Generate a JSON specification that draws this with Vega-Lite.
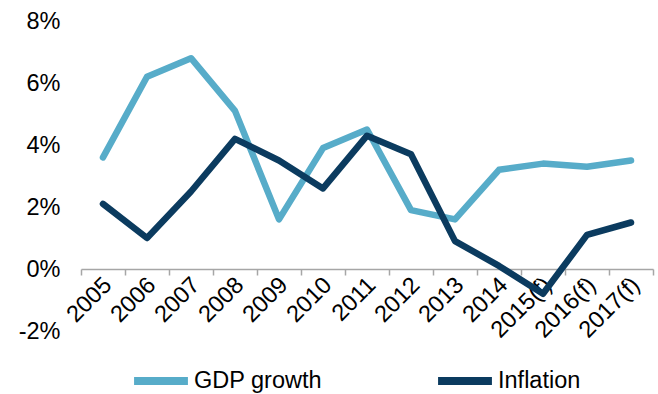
{
  "$schema": "https://vega.github.io/schema/vega-lite/v6.json",
  "width": 572,
  "height": 310,
  "autosize": {"type": "none"},
  "padding": {"left": 81, "top": 21, "right": 5, "bottom": 63},
  "background": "white",
  "config": {
    "view": {"stroke": null},
    "font": "Liberation Sans",
    "axis": {"labelFont": "Liberation Sans", "labelColor": "#000000", "labelFontSize": 23.5, "grid": false}
  },
  "data": {
    "values": [
      {"year": "2005", "series": "GDP growth", "value": 3.6},
      {"year": "2006", "series": "GDP growth", "value": 6.2},
      {"year": "2007", "series": "GDP growth", "value": 6.8},
      {"year": "2008", "series": "GDP growth", "value": 5.1},
      {"year": "2009", "series": "GDP growth", "value": 1.6},
      {"year": "2010", "series": "GDP growth", "value": 3.9},
      {"year": "2011", "series": "GDP growth", "value": 4.5},
      {"year": "2012", "series": "GDP growth", "value": 1.9},
      {"year": "2013", "series": "GDP growth", "value": 1.6},
      {"year": "2014", "series": "GDP growth", "value": 3.2},
      {"year": "2015(f)", "series": "GDP growth", "value": 3.4},
      {"year": "2016(f)", "series": "GDP growth", "value": 3.3},
      {"year": "2017(f)", "series": "GDP growth", "value": 3.5},
      {"year": "2005", "series": "Inflation", "value": 2.1},
      {"year": "2006", "series": "Inflation", "value": 1.0},
      {"year": "2007", "series": "Inflation", "value": 2.5},
      {"year": "2008", "series": "Inflation", "value": 4.2},
      {"year": "2009", "series": "Inflation", "value": 3.5},
      {"year": "2010", "series": "Inflation", "value": 2.6},
      {"year": "2011", "series": "Inflation", "value": 4.3},
      {"year": "2012", "series": "Inflation", "value": 3.7},
      {"year": "2013", "series": "Inflation", "value": 0.9},
      {"year": "2014", "series": "Inflation", "value": 0.1},
      {"year": "2015(f)", "series": "Inflation", "value": -0.8},
      {"year": "2016(f)", "series": "Inflation", "value": 1.1},
      {"year": "2017(f)", "series": "Inflation", "value": 1.5}
    ]
  },
  "mark": {"type": "line", "strokeWidth": 6.5, "strokeCap": "round", "strokeJoin": "round"},
  "encoding": {
    "x": {
      "field": "year",
      "type": "ordinal",
      "sort": null,
      "scale": {"type": "band", "paddingInner": 0, "paddingOuter": 0},
      "axis": {
        "title": null,
        "offset": -62,
        "domainColor": "#A6A6A6",
        "domainWidth": 1.5,
        "tickColor": "#A6A6A6",
        "tickWidth": 1.5,
        "tickSize": 6,
        "bandPosition": 1,
        "tickExtra": true,
        "labelAngle": -45,
        "labelAlign": "right",
        "labelBaseline": "middle",
        "labelPadding": 6,
        "labelOffset": 5
      }
    },
    "y": {
      "field": "value",
      "type": "quantitative",
      "scale": {"domain": [-2, 8], "nice": false, "zero": false},
      "axis": {
        "title": null,
        "values": [-2, 0, 2, 4, 6, 8],
        "labelExpr": "datum.value + '%'",
        "domain": false,
        "ticks": false,
        "labelPadding": 21
      }
    },
    "color": {
      "field": "series",
      "type": "nominal",
      "scale": {"domain": ["GDP growth", "Inflation"], "range": ["#57ACC9", "#0B3B5F"]},
      "legend": {
        "title": null,
        "orient": "none",
        "legendX": 49,
        "legendY": 329,
        "direction": "horizontal",
        "symbolType": "stroke",
        "symbolSize": 2900,
        "symbolStrokeWidth": 8,
        "labelFont": "Liberation Sans",
        "labelFontSize": 23.5,
        "labelColor": "#000000",
        "labelOffset": 2,
        "columnPadding": 100
      }
    }
  }
}
